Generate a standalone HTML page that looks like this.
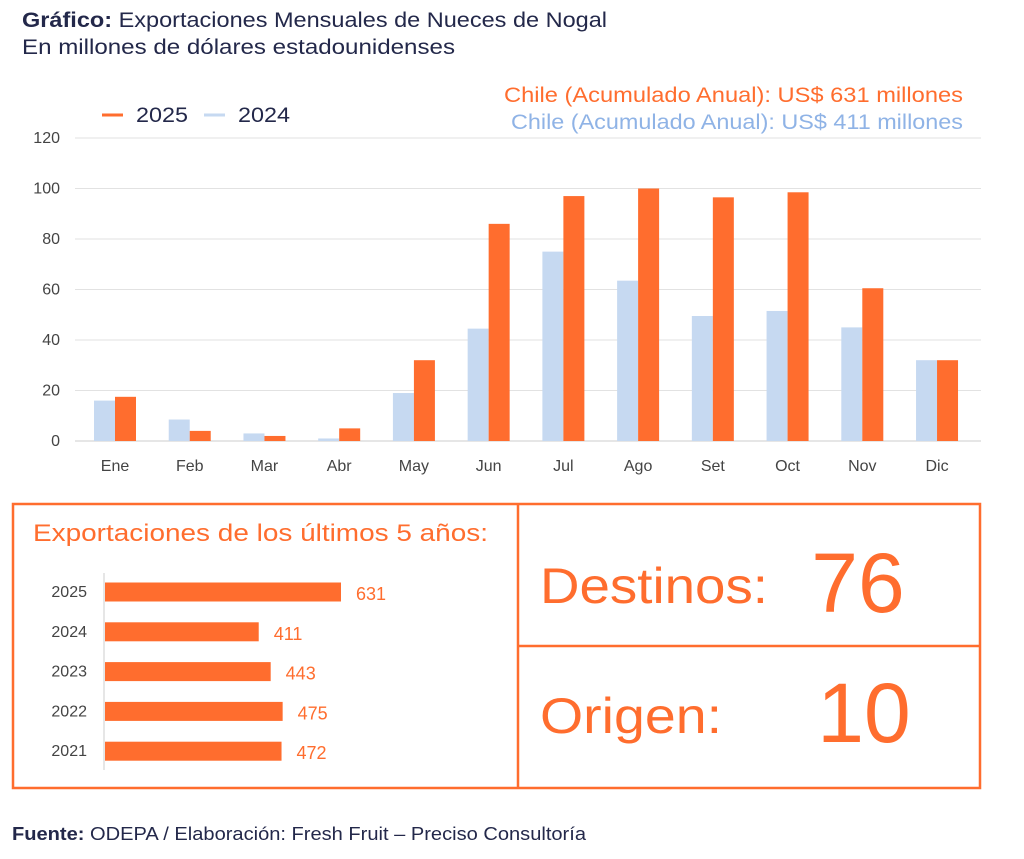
<!DOCTYPE html>
<html><head><meta charset="utf-8"><style>
body{margin:0;background:#fff;width:1024px;height:859px;overflow:hidden;font-family:"Liberation Sans",sans-serif;}
svg{display:block}
</style></head><body>
<svg id="s" width="1024" height="859" xmlns="http://www.w3.org/2000/svg" font-family="Liberation Sans, sans-serif">
<text x="22" y="27" font-size="21" fill="#23284a" textLength="585" lengthAdjust="spacingAndGlyphs"><tspan font-weight="bold">Gráfico:</tspan> Exportaciones Mensuales de Nueces de Nogal</text>
<text x="22" y="54" font-size="21" fill="#23284a" textLength="433" lengthAdjust="spacingAndGlyphs">En millones de dólares estadounidenses</text>
<g>
<line x1="102" y1="115" x2="123" y2="115" stroke="#ff6d2e" stroke-width="3"/>
<text x="136" y="122" font-size="21" fill="#23284a" textLength="52" lengthAdjust="spacingAndGlyphs">2025</text>
<line x1="204" y1="115" x2="225" y2="115" stroke="#c6d9f1" stroke-width="3"/>
<text x="238" y="122" font-size="21" fill="#23284a" textLength="52" lengthAdjust="spacingAndGlyphs">2024</text>
</g>
<text x="963" y="102" text-anchor="end" font-size="21" fill="#ff6d2e" textLength="459" lengthAdjust="spacingAndGlyphs">Chile (Acumulado Anual): US$ 631 millones</text>
<text x="963" y="129" text-anchor="end" font-size="21" fill="#8fb3e6" textLength="452" lengthAdjust="spacingAndGlyphs">Chile (Acumulado Anual): US$ 411 millones</text>
<g id="grid"></g><g id="bars"></g>
<rect x="13" y="504" width="967" height="284" fill="none" stroke="#ff6d2e" stroke-width="2.5"/>
<line x1="518" y1="504" x2="518" y2="788" stroke="#ff6d2e" stroke-width="2.5"/>
<line x1="518" y1="646" x2="980" y2="646" stroke="#ff6d2e" stroke-width="2.5"/>
<text x="33" y="541" font-size="24" fill="#ff6d2e" textLength="455" lengthAdjust="spacingAndGlyphs">Exportaciones de los últimos 5 años:</text>
<line x1="104" y1="573" x2="104" y2="770" stroke="#ddd" stroke-width="1.5"/>
<g id="hbars"></g>
<text x="540" y="603" font-size="50" fill="#ff6d2e" textLength="228" lengthAdjust="spacingAndGlyphs">Destinos:</text>
<text x="858" y="612" text-anchor="middle" font-size="84" fill="#ff6d2e">76</text>
<text x="540" y="733" font-size="50" fill="#ff6d2e" textLength="182" lengthAdjust="spacingAndGlyphs">Origen:</text>
<text x="864" y="742" text-anchor="middle" font-size="84" fill="#ff6d2e">10</text>
<text x="12" y="840" font-size="18" fill="#23284a" textLength="574" lengthAdjust="spacingAndGlyphs"><tspan font-weight="bold">Fuente:</tspan> ODEPA / Elaboración: Fresh Fruit – Preciso Consultoría</text>
</svg>
<script>
const months=["Ene","Feb","Mar","Abr","May","Jun","Jul","Ago","Set","Oct","Nov","Dic"];
const v2025=[17.5,4,2,5,32,86,97,100,96.5,98.5,60.5,32];
const v2024=[16,8.5,3,1,19,44.5,75,63.5,49.5,51.5,45,32];
const yTicks=[0,20,40,60,80,100,120];
const years=["2025","2024","2023","2022","2021"];
const totals=[631,411,443,475,472];
const NS="http://www.w3.org/2000/svg";
function mk(p,t,a,txt){const e=document.createElementNS(NS,t);for(const k in a)e.setAttribute(k,a[k]);if(txt!==undefined)e.textContent=txt;p.appendChild(e);return e;}
const y=v=>441-v*(303/120);
const x=i=>115+i*74.73;
const g=document.getElementById('grid'),b=document.getElementById('bars'),h=document.getElementById('hbars');
yTicks.forEach(t=>{
 const l=mk(g,'line',{x1:75,x2:981,y1:y(t),y2:y(t),stroke:t===0?'#ccc':'#e2e2e2','stroke-width':1});
 
 
 const tx=mk(g,'text',{x:60,y:y(t)+5,'text-anchor':'end','font-size':16,fill:'#444'},t);
 
 
});
months.forEach((m,i)=>{
 const r1=mk(b,'rect',{x:x(i)-21,y:y(v2024[i]),width:21,height:441-y(v2024[i]),fill:'#c6d9f1'});
 
 
 const r2=mk(b,'rect',{x:x(i),y:y(v2025[i]),width:21,height:441-y(v2025[i]),fill:'#ff6d2e'});
 
 
 const t=mk(b,'text',{x:x(i),y:471,'text-anchor':'middle','font-size':16,fill:'#444'},m);
 
 
});
const sx=236/631;
years.forEach((yr,i)=>{
 const cy=592+i*39.8;
 const l=mk(h,'text',{x:87,y:cy+5,'text-anchor':'end','font-size':16,fill:'#444'},yr);
 
 
 const r=mk(h,'rect',{x:105,y:cy-9.5,width:totals[i]*sx,height:19,fill:'#ff6d2e'});
 
 
 const v=mk(h,'text',{x:105+totals[i]*sx+15,y:cy+8,'font-size':18,fill:'#ff6d2e'},totals[i]);
 
 
});
</script>
</body></html>
